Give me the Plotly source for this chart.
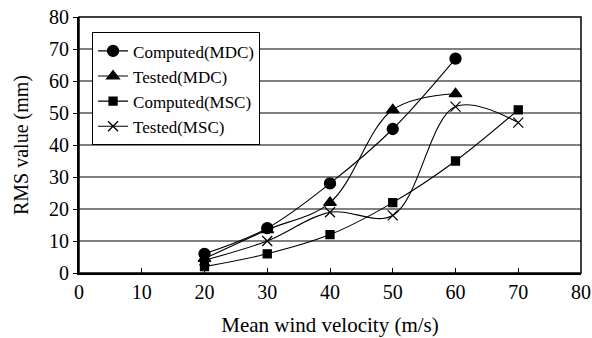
import plotly.graph_objects as go

velocity = [20, 30, 40, 50, 60, 70]
computed_mdc = [6, 14, 28, 45, 67]
tested_mdc = [4.5, 13.5, 22, 51, 56]
computed_msc = [2, 6, 12, 22, 35, 51]
tested_msc = [4, 10, 19, 18, 52, 47]

series = [
    ("Computed(MDC)", velocity[:5], computed_mdc, "circle", 11),
    ("Tested(MDC)", velocity[:5], tested_mdc, "triangle-up", 11),
    ("Computed(MSC)", velocity, computed_msc, "square", 8),
    ("Tested(MSC)", velocity, tested_msc, "x-thin-open", 10),
]

fig = go.Figure()
for name, xs, ys, sym, sz in series:
    fig.add_trace(go.Scatter(
        x=xs, y=ys, name=name, mode="lines+markers",
        line=dict(color="black", width=1.1, shape="spline", smoothing=1.0),
        marker=dict(symbol=sym, size=sz, color="black",
                    line=dict(color="black", width=1.3)),
    ))

font = "Liberation Serif, Times New Roman, serif"
fig.update_layout(
    width=592, height=338,
    margin=dict(l=79, r=11, t=17, b=65),
    paper_bgcolor="white", plot_bgcolor="white",
    font=dict(family=font, size=20, color="black"),
    showlegend=True,
    legend=dict(x=0.026, y=0.94, xanchor="left", yanchor="top",
                bordercolor="black", borderwidth=1, bgcolor="white",
                font=dict(family=font, size=17), tracegroupgap=0,
                itemwidth=30),
    xaxis=dict(range=[0, 80], dtick=10, showgrid=False, zeroline=False,
               automargin=False,
               showline=True, linecolor="black", linewidth=2, mirror=False,
               ticks="inside", ticklen=5, tickcolor="black",
               tickfont=dict(family=font, size=20),
               title=dict(text="Mean wind velocity (m/s)", standoff=15,
                          font=dict(family=font, size=21))),
    yaxis=dict(range=[0, 80], dtick=10, showgrid=True, gridcolor="#808080",
               gridwidth=1.5, zeroline=False, automargin=False,
               showline=True, linecolor="black", linewidth=2,
               ticks="outside", ticklen=4, tickcolor="black",
               tickfont=dict(family=font, size=20),
               title=dict(text="RMS value (mm)", standoff=15,
                          font=dict(family=font, size=20))),
)
# frame on top and right
fig.add_shape(type="rect", xref="paper", yref="paper", x0=0, y0=0, x1=1, y1=1,
              line=dict(color="black", width=1.5), layer="above")

fig.write_html("out.html")
